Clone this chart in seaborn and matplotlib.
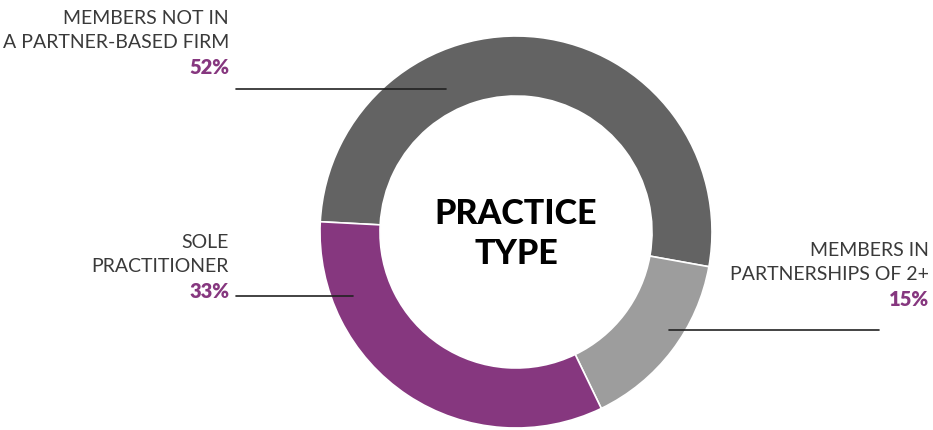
import matplotlib
matplotlib.use("Agg")
import matplotlib.pyplot as plt
import seaborn as sns

categories = ["MEMBERS NOT IN\nA PARTNER-BASED FIRM", "MEMBERS IN\nPARTNERSHIPS OF 2+", "SOLE\nPRACTITIONER"]
values = [52, 15, 33]
pct_labels = ["52%", "15%", "33%"]
colors = ["#636363", "#9d9d9d", "#86377f"]
center_title = "PRACTICE\nTYPE"

sns.set_theme(style="white")
plt.rcParams['font.family'] = ['Lato', 'DejaVu Sans']

W, H = 933, 430
fig = plt.figure(figsize=(W / 100, H / 100), dpi=100)
ax = fig.add_axes([0, 0, 1, 1])
ax.set_xlim(0, W)
ax.set_ylim(0, H)
ax.set_aspect('equal')
ax.axis('off')

cx, cy, r = 516, H - 232, 196
ax.pie(values, colors=colors, startangle=177, counterclock=False,
       center=(cx, cy), radius=r, frame=True,
       wedgeprops=dict(width=60, edgecolor='white', linewidth=1.2))
ax.set_xlim(0, W)
ax.set_ylim(0, H)
ax.axis('off')

def Y(y):
    return H - y

purple = "#86377f"
fs = 14
label_specs = [
    (229, 'right', [18, 43], 68, categories[0], pct_labels[0]),
    (929, 'right', [250, 275], 300, categories[1], pct_labels[1]),
    (229, 'right', [242, 267], 292, categories[2], pct_labels[2]),
]
for x, ha, ys, yp, cat, pct in label_specs:
    for line, yy in zip(cat.split("\n"), ys):
        ax.text(x, Y(yy), line, ha=ha, va='center', fontsize=fs,
                fontweight='normal', color='#3a3a3a')
    ax.text(x, Y(yp), pct, ha=ha, va='center', fontsize=fs + 0.5,
            fontweight='heavy', color=purple)

# leader lines
ax.plot([236, 446], [Y(89), Y(89)], color='#222222', lw=1.2)
ax.plot([236, 353], [Y(296), Y(296)], color='#222222', lw=1.2)
ax.plot([669, 879], [Y(330), Y(330)], color='#222222', lw=1.2)

t1, t2 = center_title.split("\n")
ax.text(cx, Y(214), t1, ha='center', va='center', fontsize=24.5,
        fontweight='black', color='black')
ax.text(cx, Y(254), t2, ha='center', va='center', fontsize=24.5,
        fontweight='black', color='black')

fig.savefig("out.png", dpi=100)
